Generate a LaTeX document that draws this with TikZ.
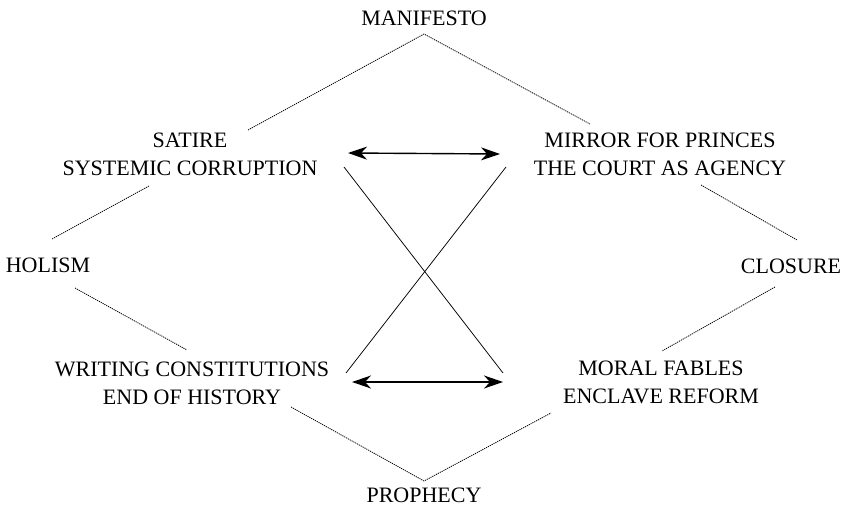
\documentclass[tikz,border=0pt]{standalone}
\usepackage{fontspec}
\setmainfont{Liberation Serif}
\usetikzlibrary{calc,arrows.meta}
\begin{document}
\begin{tikzpicture}[x=1pt,y=-1pt,
  lbl/.style={inner sep=0pt,anchor=base,font=\fontsize{22}{28}\selectfont},
  dotline/.style={line width=0.8pt,dash pattern=on 1.2pt off 0.9pt},
  cross/.style={line width=0.75pt},
  dbl/.style={line width=1.4pt,{Stealth[length=19pt,width=13pt,inset=6pt]}-{Stealth[length=19pt,width=13pt,inset=6pt]}}]
\useasboundingbox[fill=white] (0,0) rectangle (845,508);
\node[lbl] (manifesto) at (424,26) {MANIFESTO};
\node[lbl] (satire) at (190,147) {\begin{tabular}[t]{@{}c@{}}SATIRE\\SYSTEMIC CORRUPTION\end{tabular}};
\node[lbl] (mirror) at (660,147) {\begin{tabular}[t]{@{}c@{}}MIRROR FOR PRINCES\\THE COURT AS AGENCY\end{tabular}};
\node[lbl] (holism) at (48,272) {HOLISM};
\node[lbl] (closure) at (791,273) {CLOSURE};
\node[lbl] (writing) at (192,376) {\begin{tabular}[t]{@{}c@{}}WRITING CONSTITUTIONS\\END OF HISTORY\end{tabular}};
\node[lbl] (moral) at (661,375) {\begin{tabular}[t]{@{}c@{}}MORAL FABLES\\ENCLAVE REFORM\end{tabular}};
\node[lbl] (prophecy) at (424,502) {PROPHECY};
% dotted frame
\draw[dotline] ($(satire.base)+(58,-17)$) -- ($(manifesto.base)+(0,8)$) -- ($(mirror.base)+(-70,-23)$);
\draw[dotline] ($(satire.base)+(-41,39)$) -- ($(holism.base)+(4,-33)$);
\draw[dotline] ($(holism.base)+(27,16)$) -- ($(writing.base)+(-5,-26)$);
\draw[dotline] ($(mirror.base)+(41,38)$) -- ($(closure.base)+(6,-33)$);
\draw[dotline] ($(closure.base)+(-16,14)$) -- ($(moral.base)+(1,-24)$);
\draw[dotline] ($(writing.base)+(99,31)$) -- ($(prophecy.base)+(0,-21)$) -- ($(moral.base)+(-110,38)$);
% arrows
\draw[dbl] ($(satire.base)+(158,6)$) -- ($(mirror.base)+(-160,7)$);
\draw[dbl] ($(writing.base)+(160,6)$) -- ($(moral.base)+(-158,7)$);
% crossing
\draw[cross] ($(satire.base)+(154,20)$) -- ($(moral.base)+(-158,-2)$);
\draw[cross] ($(writing.base)+(154,-3)$) -- ($(mirror.base)+(-154,20)$);
\end{tikzpicture}
\end{document}
